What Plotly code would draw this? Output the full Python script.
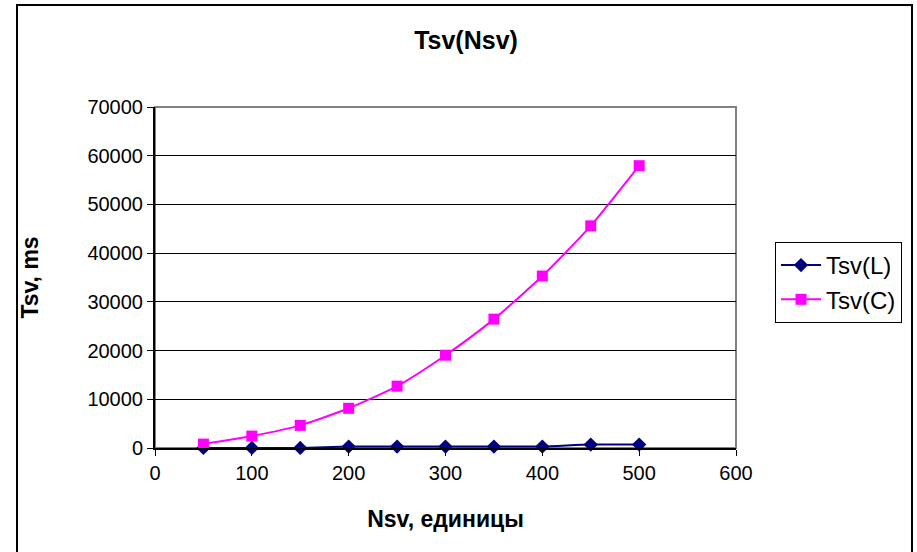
import plotly.graph_objects as go

# Measured execution time (ms) versus number of units
nsv = [50, 100, 150, 200, 250, 300, 350, 400, 450, 500]
tsv_l = [20, 20, 20, 300, 300, 300, 300, 300, 700, 700]
tsv_c = [800, 2450, 4650, 8150, 12700, 19050, 26450, 35300, 45600, 57950]

x_ticks = [0, 100, 200, 300, 400, 500, 600]
y_ticks = [0, 10000, 20000, 30000, 40000, 50000, 60000, 70000]
y_tick_text = [str(v) for v in y_ticks]

FONT = "Liberation Sans, Arial, sans-serif"

fig = go.Figure()
fig.add_trace(go.Scatter(
    x=nsv, y=tsv_l, name="Tsv(L)", mode="lines+markers",
    line=dict(color="#000080", width=2, shape="spline", smoothing=0.6),
    marker=dict(symbol="diamond", size=11, color="#000080"),
    cliponaxis=False,
))
fig.add_trace(go.Scatter(
    x=nsv, y=tsv_c, name="Tsv(C)", mode="lines+markers",
    line=dict(color="#FF00FF", width=2, shape="spline", smoothing=0.6),
    marker=dict(symbol="square", size=11, color="#FF00FF"),
    cliponaxis=False,
))

L, R, T, B = 155, 181, 107, 104
W, H = 917, 552
pw, ph = W - L - R, H - T - B

def px_x(p):
    return (p - L) / pw

def px_y(p):
    return (H - B - p) / ph

shapes = [
    # chart area frame
    dict(type="rect", xref="paper", yref="paper",
         x0=px_x(17), x1=px_x(912), y0=px_y(560), y1=px_y(5),
         line=dict(color="black", width=2), layer="below"),
    # plot area frame
    dict(type="rect", xref="paper", yref="paper", x0=0, x1=1, y0=0, y1=1,
         line=dict(color="#808080", width=2), layer="below"),
]

fig.update_layout(
    width=W, height=H,
    margin=dict(l=L, r=R, t=T, b=B),
    paper_bgcolor="white", plot_bgcolor="white",
    font=dict(family=FONT, size=20, color="black"),
    title=dict(text="<b>Tsv(Nsv)</b>", x=466 / W, xanchor="center",
               y=1 - 40 / H, yanchor="middle",
               font=dict(family=FONT, size=25, color="black")),
    xaxis=dict(
        range=[0, 600], tickvals=x_ticks, showgrid=False,
        showline=True, linecolor="black", linewidth=2,
        ticks="outside", ticklen=6, tickcolor="black", tickwidth=1,
        tickfont=dict(size=20), zeroline=False,
        title=dict(text="<b>Nsv, единицы</b>", standoff=28,
                   font=dict(size=23)),
    ),
    yaxis=dict(
        range=[0, 70000], tickvals=y_ticks, ticktext=y_tick_text,
        showgrid=True, gridcolor="#000000", gridwidth=1,
        showline=True, linecolor="black", linewidth=2,
        ticks="outside", ticklen=6, tickcolor="black", tickwidth=1,
        tickfont=dict(size=20), zeroline=False,
        title=dict(text="<b>Tsv, ms</b>", standoff=42,
                   font=dict(size=23)),
    ),
    legend=dict(
        x=px_x(775), y=px_y(242), xanchor="left", yanchor="top",
        bordercolor="black", borderwidth=1, bgcolor="white",
        font=dict(size=24), itemwidth=40, tracegroupgap=0,
    ),
    shapes=shapes,
    showlegend=True,
)

fig.write_html("out.html")
